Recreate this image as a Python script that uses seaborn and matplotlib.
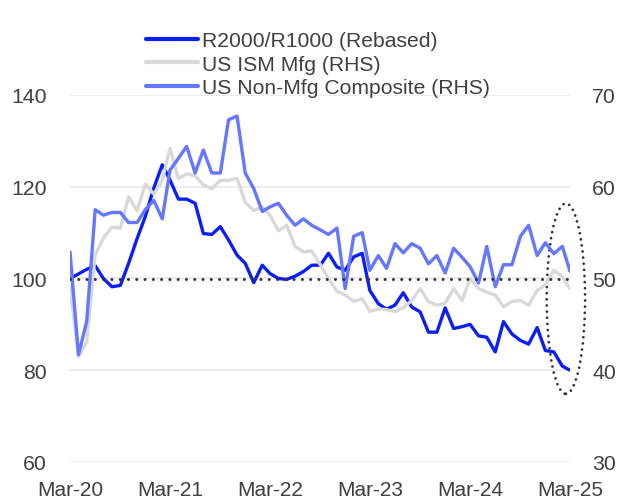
import numpy as np
import pandas as pd
import matplotlib
matplotlib.use("Agg")
import matplotlib.pyplot as plt
import matplotlib.dates as mdates
from matplotlib.patches import Ellipse
import seaborn as sns

sns.set_theme(style="white")
plt.rcParams['font.family'] = ['Liberation Sans', 'DejaVu Sans']

# ---------------- data ----------------
dates = pd.date_range("2020-03-01", "2025-03-01", freq="MS")

r2000_r1000 = [100.0, 101.0, 102.0, 102.8, 100.0, 98.2, 98.5, 103.3, 108.7, 113.5,
               119.7, 124.8, 121.5, 117.3, 117.3, 116.4, 109.8, 109.6, 111.3, 108.4,
               105.1, 103.3, 99.1, 102.9, 101.1, 100.0, 99.8, 100.5, 101.5, 102.9,
               102.9, 105.5, 102.5, 101.8, 104.7, 105.5, 97.4, 94.5, 93.3, 94.2,
               96.9, 93.8, 92.7, 88.3, 88.3, 93.6, 89.1, 89.5, 90.0, 87.5,
               87.2, 84.0, 90.6, 87.9, 86.5, 85.7, 89.3, 84.3, 84.0, 80.9,
               80.0]

ism_mfg = [49.1, 41.5, 43.1, 52.6, 54.4, 55.6, 55.5, 58.9, 57.4, 60.3,
           59.2, 60.7, 64.2, 60.9, 61.4, 61.2, 60.2, 59.8, 60.7, 60.7,
           60.9, 58.3, 57.4, 57.8, 56.9, 55.2, 55.8, 53.5, 52.9, 53.0,
           51.5, 50.0, 48.6, 48.2, 47.5, 47.8, 46.4, 46.7, 46.6, 46.4,
           46.8, 47.6, 48.9, 47.5, 47.1, 47.3, 48.9, 47.6, 50.0, 48.9,
           48.5, 48.2, 46.9, 47.5, 47.6, 47.1, 48.7, 49.3, 50.9, 50.2,
           48.9]

non_mfg = [52.9, 41.7, 45.3, 57.5, 56.9, 57.2, 57.2, 56.1, 56.1, 57.5,
           58.5, 56.5, 61.8, 63.1, 64.4, 61.5, 64.0, 61.5, 61.5, 67.3,
           67.7, 61.5, 59.8, 57.3, 57.8, 58.2, 56.9, 55.8, 56.5, 55.8,
           55.3, 54.8, 55.5, 48.9, 54.6, 55.0, 50.9, 52.5, 51.1, 53.8,
           52.8, 53.8, 53.3, 51.6, 52.5, 50.6, 53.3, 52.3, 51.3, 49.5,
           53.5, 49.1, 51.5, 51.5, 54.6, 55.8, 52.5, 53.9, 52.7, 53.5,
           50.8]

labels = ["R2000/R1000 (Rebased)", "US ISM Mfg (RHS)", "US Non-Mfg Composite (RHS)"]
colors = ["#0A1EFA", "#D9D9D9", "#6677FF"]

left_ticks = [60, 80, 100, 120, 140]
right_ticks = [30, 40, 50, 60, 70]
xtick_dates = pd.date_range("2020-03-01", "2025-03-01", freq="12MS")

df = pd.DataFrame({"date": dates, "r2000": r2000_r1000,
                   "ism": ism_mfg, "nonmfg": non_mfg})

# ---------------- figure ----------------
fig = plt.figure(figsize=(6.4, 5.02), dpi=100)
ax = fig.add_axes([70/640, 1 - 463/502, 500/640, (463 - 96)/502])
ax2 = ax.twinx()

text_col = "#404040"

sns.lineplot(data=df, x="date", y="r2000", ax=ax, color=colors[0], lw=2.4, legend=False)
sns.lineplot(data=df, x="date", y="ism", ax=ax2, color=colors[1], lw=2.4, legend=False)
sns.lineplot(data=df, x="date", y="nonmfg", ax=ax2, color=colors[2], lw=2.4, legend=False)

ax.set_ylim(left_ticks[0], left_ticks[-1])
ax2.set_ylim(right_ticks[0], right_ticks[-1])
ax.set_yticks(left_ticks)
ax2.set_yticks(right_ticks)
ax.set_xlim(dates[0], dates[-1])
ax.set_xticks(xtick_dates)
ax.xaxis.set_major_formatter(mdates.DateFormatter("%b-%y"))

ax.grid(axis="y", color="#EBEBEB", lw=1.3)
ax.grid(axis="x", visible=False)
ax2.grid(False)
for a in (ax, ax2):
    for s in a.spines.values():
        s.set_visible(False)
    a.set_xlabel("")
    a.set_ylabel("")

ax.tick_params(axis="y", length=0, pad=17, labelsize=15.3, labelcolor=text_col)
ax2.tick_params(axis="y", length=0, pad=16, labelsize=15.3, labelcolor=text_col)
ax.tick_params(axis="x", length=0, pad=13, labelsize=15, labelcolor=text_col)

# dotted reference line at 100 (LHS) == 50 (RHS)
ax2.axhline(50, color="#333333", lw=2.2, linestyle=(0, (0.01, 2.7)),
            dash_capstyle="round", zorder=5)

# dotted ellipse around the most recent months
xc = mdates.date2num(dates[-1]) - 15
ell = Ellipse((xc, 95.6), width=140, height=41.5, fill=False,
              edgecolor="#333333", lw=2.0, linestyle=(0, (0.01, 2.2)),
              capstyle="round", clip_on=False, zorder=6)
ax.add_patch(ell)

handles = [ax.lines[0], ax2.lines[0], ax2.lines[1]]
leg = fig.legend(handles, labels, loc="upper left",
                 bbox_to_anchor=(146/640, 1 - 32/502), frameon=False,
                 fontsize=15.2, handlelength=2.45, handletextpad=0.2,
                 labelspacing=0.22, borderpad=0, borderaxespad=0)
for t in leg.get_texts():
    t.set_color(text_col)
for h in leg.legend_handles:
    h.set_linewidth(3)

fig.savefig("out.png", dpi=100)
